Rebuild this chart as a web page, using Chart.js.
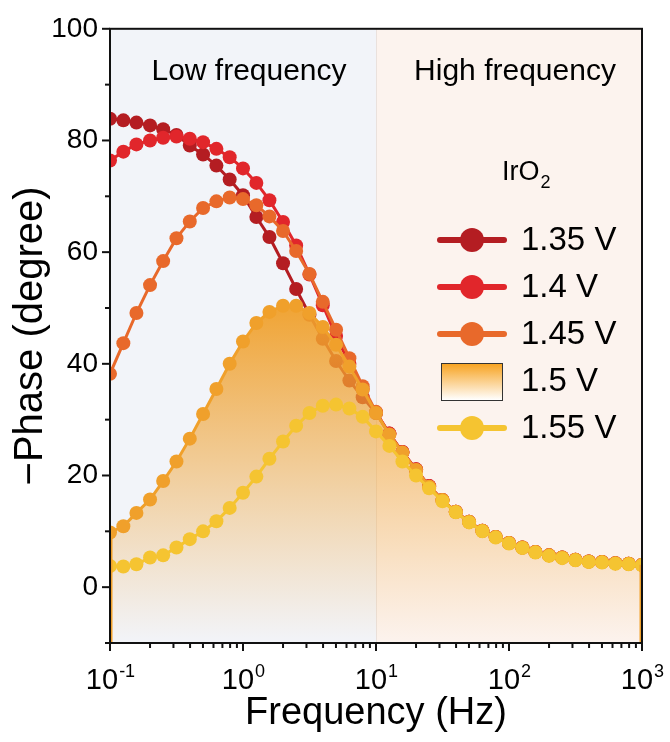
<!DOCTYPE html>
<html>
<head>
<meta charset="utf-8">
<script src="https://cdn.jsdelivr.net/npm/chart.js@4.4.0/dist/chart.umd.min.js"></script>
<style>
    html, body { margin: 0; padding: 0; background: #fff; }
    #phaseChart { display: block; }
</style>
</head>
<body>
<canvas id="phaseChart" width="670" height="742"></canvas>
<script>
// Bode phase, IrO2 at several potentials
const freqs = [0.1, 0.126, 0.158, 0.2, 0.251, 0.316, 0.398, 0.501, 0.631, 0.794,
    1, 1.26, 1.58, 2, 2.51, 3.16, 3.98, 5.01, 6.31, 7.94,
    10, 12.6, 15.8, 20, 25.1, 31.6, 39.8, 50.1, 63.1, 79.4,
    100, 126, 158, 200, 251, 316, 398, 501, 631, 794, 1000];

const phase135 = [83.9, 83.6, 83.2, 82.7, 82.0, 81.0, 79.1, 77.5, 75.5, 73.0,
    70.2, 66.3, 62.7, 58.0, 53.4, 48.8, 44.5, 40.5, 37.0, 34.0,
    31.2, 27.5, 24.2, 21.1, 18.1, 15.6, 13.5, 11.7, 10.1, 9.0,
    7.9, 7.1, 6.3, 5.7, 5.3, 4.9, 4.6, 4.5, 4.3, 4.2, 4.0];
const phase140 = [76.4, 78.0, 79.3, 80.0, 80.5, 80.7, 80.3, 79.7, 78.5, 77.0,
    75.0, 72.4, 69.3, 65.4, 61.2, 56.0, 50.5, 45.0, 40.0, 35.5,
    31.3, 27.5, 24.2, 21.1, 18.1, 15.6, 13.5, 11.7, 10.1, 9.0,
    7.9, 7.1, 6.3, 5.7, 5.3, 4.9, 4.6, 4.5, 4.3, 4.2, 4.0];
const phase145 = [38.2, 43.7, 49.1, 54.1, 58.4, 62.5, 65.5, 67.9, 69.1, 69.8,
    69.5, 68.4, 66.4, 63.8, 60.2, 56.1, 51.1, 46.1, 41.0, 36.0,
    31.4, 27.4, 24.1, 21.0, 18.0, 15.6, 13.5, 11.7, 10.1, 9.0,
    7.9, 7.1, 6.3, 5.7, 5.3, 4.9, 4.6, 4.5, 4.3, 4.2, 4.0];
const phase150 = [9.8, 10.9, 13.3, 15.7, 19.0, 22.5, 26.6, 31.0, 35.5, 40.0,
    44.0, 47.3, 49.3, 50.4, 50.4, 49.1, 46.6, 43.4, 39.5, 35.4,
    31.2, 27.3, 24.1, 21.0, 18.0, 15.6, 13.5, 11.7, 10.1, 9.0,
    7.9, 7.1, 6.3, 5.7, 5.3, 4.9, 4.6, 4.5, 4.3, 4.2, 4.0];
const phase155 = [3.8, 3.7, 4.1, 5.3, 5.7, 7.1, 8.6, 10.0, 11.8, 14.2,
    16.9, 19.8, 23.0, 26.1, 28.9, 31.2, 32.5, 32.7, 32.0, 30.5,
    27.9, 25.3, 22.5, 20.0, 17.7, 15.4, 13.4, 11.6, 10.0, 8.9,
    7.8, 7.0, 6.2, 5.6, 5.2, 4.8, 4.5, 4.4, 4.2, 4.1, 3.9];

const seriesLabels = ['1.35 V', '1.4 V', '1.45 V', '1.5 V', '1.55 V'];
const seriesColors = ['#b41d22', '#e1262b', '#e8692b', '#f0a02b', '#f5c431'];
const xTickValues = [0.1, 1, 10, 100, 1000];
const xTickExps = ['-1', '0', '1', '2', '3'];
const regionSplit = 10;
const regionLabels = ['Low frequency', 'High frequency'];

const FONT = 'Arial, "Liberation Sans", Helvetica, sans-serif';

function toPoints(vals) {
    return freqs.map((f, i) => ({ x: f, y: vals[i] }));
}

function fillGradient(context) {
    const chart = context.chart;
    const { chartArea, scales } = chart;
    if (!chartArea) return 'rgba(240,160,43,0.5)';
    const g = chart.ctx.createLinearGradient(0, scales.y.getPixelForValue(50), 0, chartArea.bottom);
    g.addColorStop(0, 'rgba(240,160,43,0.95)');
    g.addColorStop(1, 'rgba(240,170,70,0.0)');
    return g;
}

const allSeries = [phase135, phase140, phase145, phase150, phase155];
const datasets = allSeries.map((vals, i) => ({
    label: seriesLabels[i],
    data: toPoints(vals),
    borderColor: seriesColors[i],
    backgroundColor: i === 3 ? fillGradient : seriesColors[i],
    pointBackgroundColor: seriesColors[i],
    pointBorderWidth: 0,
    pointRadius: 7,
    borderWidth: 3,
    tension: 0,
    fill: i === 3 ? 'start' : false,
    order: allSeries.length - i,
    clip: 0
}));

// backgrounds, ticks, frame, annotations, legend
const decorPlugin = {
    id: 'decor',
    beforeDraw(chart) {
        const { ctx, chartArea: a, scales } = chart;
        const xs = scales.x.getPixelForValue(regionSplit);
        ctx.save();
        ctx.fillStyle = '#f2f4f9';
        ctx.fillRect(a.left, a.top, xs - a.left, a.bottom - a.top);
        ctx.fillStyle = '#fcf3ee';
        ctx.fillRect(xs, a.top, a.right - xs, a.bottom - a.top);
        ctx.strokeStyle = 'rgba(0,0,0,0.07)';
        ctx.lineWidth = 1;
        ctx.beginPath();
        ctx.moveTo(xs + 0.5, a.top);
        ctx.lineTo(xs + 0.5, a.bottom);
        ctx.stroke();
        ctx.restore();
    },
    afterDatasetsDraw(chart) {
        // edges of the filled 1.5 V area
        const { ctx, chartArea: a } = chart;
        const pts = chart.getDatasetMeta(3).data;
        ctx.save();
        ctx.strokeStyle = seriesColors[3];
        ctx.lineWidth = 3;
        [pts[0], pts[pts.length - 1]].forEach(p => {
            const x = Math.min(Math.max(p.x, a.left + 1), a.right - 1);
            ctx.beginPath();
            ctx.moveTo(x, p.y);
            ctx.lineTo(x, a.bottom);
            ctx.stroke();
        });
        ctx.restore();
    },
    afterDraw(chart) {
        const { ctx, chartArea: a, scales } = chart;
        const xs = scales.x, ys = scales.y;
        ctx.save();

        // frame
        ctx.strokeStyle = '#111';
        ctx.lineWidth = 2;
        ctx.strokeRect(a.left, a.top, a.right - a.left, a.bottom - a.top);

        // y ticks
        for (let v = -10; v <= 100; v += 10) {
            const y = ys.getPixelForValue(v);
            const len = v % 20 === 0 ? 8 : 5;
            ctx.beginPath();
            ctx.moveTo(a.left, y);
            ctx.lineTo(a.left - len, y);
            ctx.stroke();
        }
        // x ticks (log)
        for (let d = 0; d < xTickValues.length; d++) {
            const base = xTickValues[d];
            const kMax = d === xTickValues.length - 1 ? 1 : 9;
            for (let k = 1; k <= kMax; k++) {
                const x = xs.getPixelForValue(base * k);
                const len = k === 1 ? 8 : 5;
                ctx.beginPath();
                ctx.moveTo(x, a.bottom);
                ctx.lineTo(x, a.bottom + len);
                ctx.stroke();
            }
        }

        // x tick labels with superscript exponents
        ctx.fillStyle = '#000';
        ctx.textBaseline = 'alphabetic';
        ctx.textAlign = 'left';
        xTickValues.forEach((v, i) => {
            const x = xs.getPixelForValue(v);
            ctx.font = '29px ' + FONT;
            const wBase = ctx.measureText('10').width;
            ctx.font = '18px ' + FONT;
            const wExp = ctx.measureText(xTickExps[i]).width;
            const x0 = x - (wBase + wExp) / 2;
            ctx.font = '29px ' + FONT;
            ctx.fillText('10', x0, 689);
            ctx.font = '18px ' + FONT;
            ctx.fillText(xTickExps[i], x0 + wBase + 1, 677);
        });

        // region captions
        const xSplit = xs.getPixelForValue(regionSplit);
        ctx.font = '30px ' + FONT;
        ctx.textAlign = 'center';
        ctx.fillText(regionLabels[0], (a.left + xSplit) / 2 + 6, 80);
        ctx.fillText(regionLabels[1], (xSplit + a.right) / 2 + 6, 80);

        // legend title IrO2
        ctx.textAlign = 'left';
        ctx.font = '27px ' + FONT;
        ctx.fillText('IrO', 502, 180);
        const wIrO = ctx.measureText('IrO').width;
        ctx.font = '18px ' + FONT;
        ctx.fillText('2', 503 + wIrO, 188);

        // legend rows
        const rowY = [240, 287, 334, 381, 428];
        seriesLabels.forEach((lab, i) => {
            const y = rowY[i];
            if (i === 3) {
                const g = ctx.createLinearGradient(0, y - 18, 0, y + 19);
                g.addColorStop(0, '#f7a11c');
                g.addColorStop(1, '#ffffff');
                ctx.fillStyle = g;
                ctx.fillRect(441, y - 18, 61, 37);
                ctx.strokeStyle = '#333';
                ctx.lineWidth = 1;
                ctx.strokeRect(441.5, y - 17.5, 61, 37);
            } else {
                ctx.strokeStyle = seriesColors[i];
                ctx.lineWidth = 6;
                ctx.lineCap = 'round';
                ctx.beginPath();
                ctx.moveTo(440, y);
                ctx.lineTo(504, y);
                ctx.stroke();
                ctx.fillStyle = seriesColors[i];
                ctx.beginPath();
                ctx.arc(472, y, 12, 0, Math.PI * 2);
                ctx.fill();
            }
            ctx.fillStyle = '#000';
            ctx.font = '33px ' + FONT;
            ctx.textBaseline = 'middle';
            ctx.fillText(lab, 521, y + 1);
            ctx.textBaseline = 'alphabetic';
        });
        ctx.restore();
    }
};

new Chart(document.getElementById('phaseChart').getContext('2d'), {
    type: 'line',
    data: { datasets },
    options: {
        responsive: false,
        animation: false,
        devicePixelRatio: 1,
        layout: { padding: { left: 0, right: 28, top: 28, bottom: 0 } },
        plugins: { legend: { display: false }, tooltip: { enabled: false } },
        scales: {
            x: {
                type: 'logarithmic',
                min: 0.1,
                max: 1000,
                grid: { display: false, drawTicks: false },
                border: { display: false },
                ticks: { display: false },
                title: {
                    display: true,
                    text: 'Frequency (Hz)',
                    color: '#000',
                    font: { family: FONT, size: 38 },
                    padding: { top: 0, bottom: 6 }
                },
                afterFit: s => { s.height = 99; }
            },
            y: {
                min: -10,
                max: 100,
                grid: { display: false, drawTicks: false },
                border: { display: false },
                ticks: {
                    stepSize: 10,
                    autoSkip: false,
                    padding: 12,
                    color: '#000',
                    font: { family: FONT, size: 28 },
                    callback: v => (v % 20 === 0 ? v : '')
                },
                title: {
                    display: true,
                    text: '\u2212Phase (degree)',
                    color: '#000',
                    font: { family: FONT, size: 40 },
                    padding: { top: 7, bottom: 0 }
                },
                afterFit: s => { s.width = 110; }
            }
        }
    },
    plugins: [decorPlugin]
});
</script>
</body>
</html>
